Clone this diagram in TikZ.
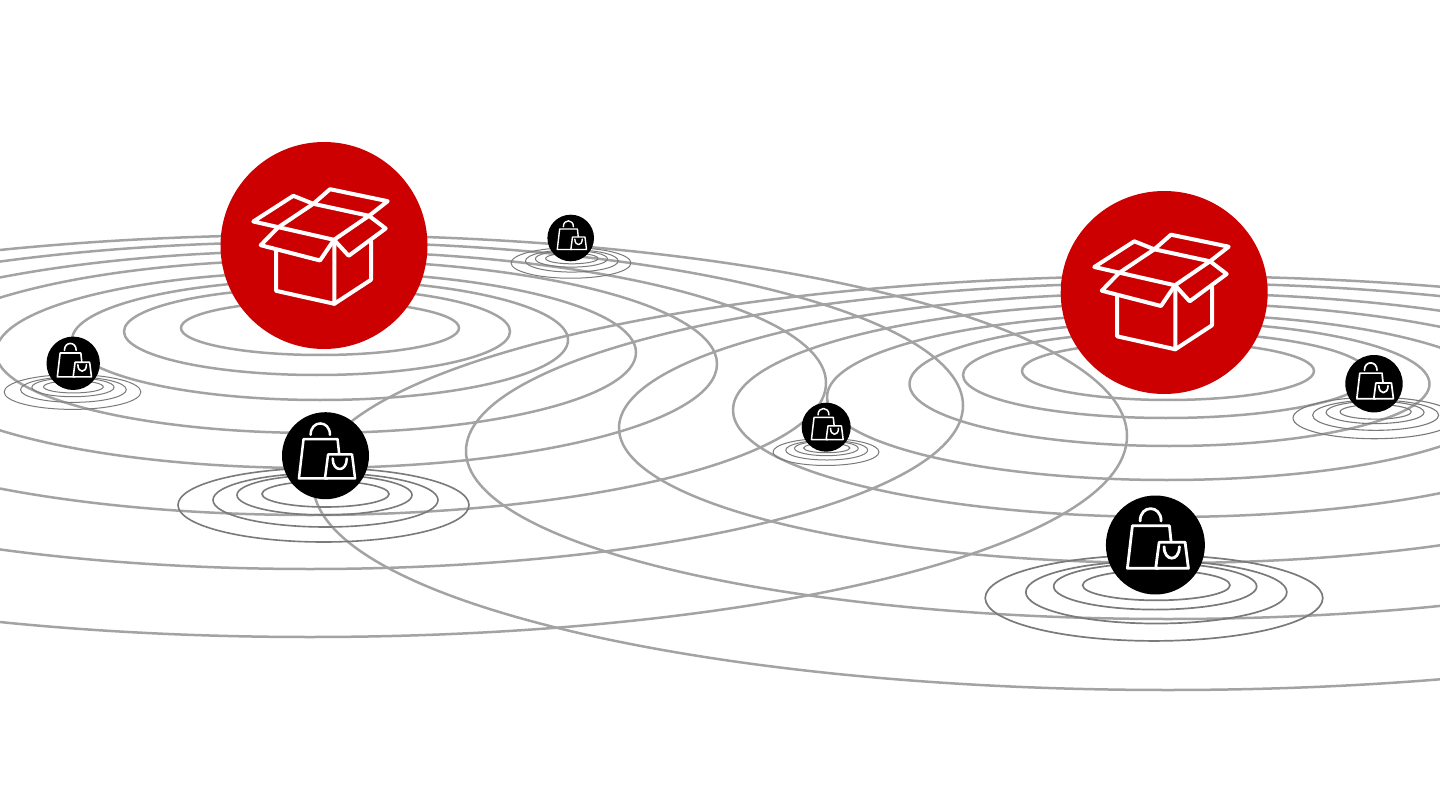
\documentclass[tikz,border=0pt]{standalone}
\usetikzlibrary{shapes.geometric}
\definecolor{ringgray}{HTML}{A3A3A3}
\definecolor{ripplegray}{HTML}{7A7A7A}
\definecolor{boxred}{HTML}{CC0000}
\tikzset{
  ring/.style={draw=ringgray,line width=2.5pt},
  ripple/.style={draw=ripplegray},
  redball/.style={circle,fill=boxred,inner sep=0pt,outer sep=0pt},
  blackball/.style={circle,fill=black,inner sep=0pt,outer sep=0pt},
  iconline/.style={draw=white,line join=round,line cap=round}
}
% box icon: origin at the disc centre
\newcommand{\boxicon}[2]{%
  \begin{scope}[shift={(#1,#2)},iconline,line width=4pt]
    \draw (-70.7,-24) -- (-30.7,-49.7) -- (-10.7,-41.7) -- (45,-29.7) -- (10,-5.7) -- (-70.7,-24) -- cycle;
    \draw (-10.7,-41.7) -- (-46,-18) ;
    \draw (-10.7,-41.7) -- (6,-56.3) -- (63.7,-44.3) -- (45,-29.7);
    \draw (-46,-18) -- (-63.3,-0.3) -- (-4,15) -- (10,-5.7);
    \draw (10,-5.7) -- (24.7,10.3) -- (61.7,-17) -- (45,-29.7);
    \draw (-48,4.3) -- (-48,45.3) -- (10.3,58.3) -- (10.3,-5.7);
    \draw (10.3,58.3) -- (47,34.3) -- (47,-4);
  \end{scope}}
% bag icon: origin at the disc centre
\newcommand{\bagicon}[4]{%
  \begin{scope}[shift={(#1,#2)},scale=#3,iconline,line width=#4pt]
    \draw (3.2,23.3) -- (-28,23.3) -- (-23,-19.3) -- (14,-19.3) -- (15.7,-3.3);
    \draw (3.7,-2.7) -- (29.7,-2.7) -- (33,23.3) -- (0.3,23.3) -- cycle;
    \draw (-15.3,-24) .. controls (-15.3,-40.5) and (5.7,-40.5) .. (5.7,-24);
    \draw (8.7,1.7) .. controls (8.7,17) and (24,17) .. (24,1.7);
  \end{scope}}
% ripple family
\newcommand{\ripples}[4]{%
  \begin{scope}[shift={(#1,#2)},scale=#3,ripple,line width=#4pt]
    \draw (0,0) ellipse [x radius=145.5,y radius=37];
    \draw (2,-5) ellipse [x radius=112.5,y radius=27];
    \draw (1,-10) ellipse [x radius=87.5,y radius=20];
    \draw (2,-11) ellipse [x radius=63.5,y radius=13];
  \end{scope}}
\begin{document}
\begin{tikzpicture}[x=1pt,y=-1pt]
  \useasboundingbox (0,0) rectangle (1440,810);
  \clip (0,0) rectangle (1440,810);
  % left family of rings
  \foreach \cx/\cy/\rx/\ry in {320/328/139/27, 317/331.5/193/43.5, 320/340/248/60, 316/352.5/320/80.5,
     312/364/405/104, 310/383/516/132, 310/405.5/653/163.5, 310/436/817/201}
    \draw[ring] (\cx,\cy) ellipse [x radius=\rx,y radius=\ry];
  % right family of rings
  \foreach \cx/\cy/\rx/\ry in {1168/371/146/29, 1166/375/203/43, 1169.5/384/260/62, 1167/397/340/83,
     1167/410/434/107, 1168/428/549/135, 1168/451/702/168, 1168/483/855/207}
    \draw[ring] (\cx,\cy) ellipse [x radius=\rx,y radius=\ry];
  % ripples
  \ripples{323.5}{505}{1}{1.6}
  \ripples{1154}{598}{1.16}{1.7}
  \ripples{72.5}{392}{0.47}{1}
  \ripples{571}{263}{0.412}{1}
  \ripples{826}{452}{0.364}{1}
  \ripples{1374.5}{418}{0.56}{1.1}
  % discs
  \node[redball,minimum size=207pt] (boxa) at (324,245.5) {};
  \node[ellipse,fill=boxred,inner sep=0pt,outer sep=0pt,minimum width=207pt,minimum height=203pt] (boxb) at (1164.2,292.5) {};
  \node[blackball,minimum size=87pt] (baga) at (325.5,455.7) {};
  \node[blackball,minimum size=99pt] (bagb) at (1155.4,545) {};
  \node[blackball,minimum size=53.4pt] (bagc) at (73.2,363.3) {};
  \node[blackball,minimum size=46.6pt] (bagd) at (570.7,238) {};
  \node[blackball,minimum size=49pt] (bage) at (826.2,427.2) {};
  \node[blackball,minimum size=57.4pt] (bagf) at (1374,383.7) {};
  % icons
  \boxicon{324}{245.5}
  \boxicon{1165}{291}
  \bagicon{324.7}{456.9}{0.92}{2.5}
  \bagicon{1155.4}{545}{1}{2.8}
  \bagicon{73}{363.8}{0.56}{1.6}
  \bagicon{570.7}{238.3}{0.48}{1.4}
  \bagicon{826}{427.4}{0.52}{1.5}
  \bagicon{1373.6}{384.7}{0.6}{1.7}
\end{tikzpicture}
\end{document}
